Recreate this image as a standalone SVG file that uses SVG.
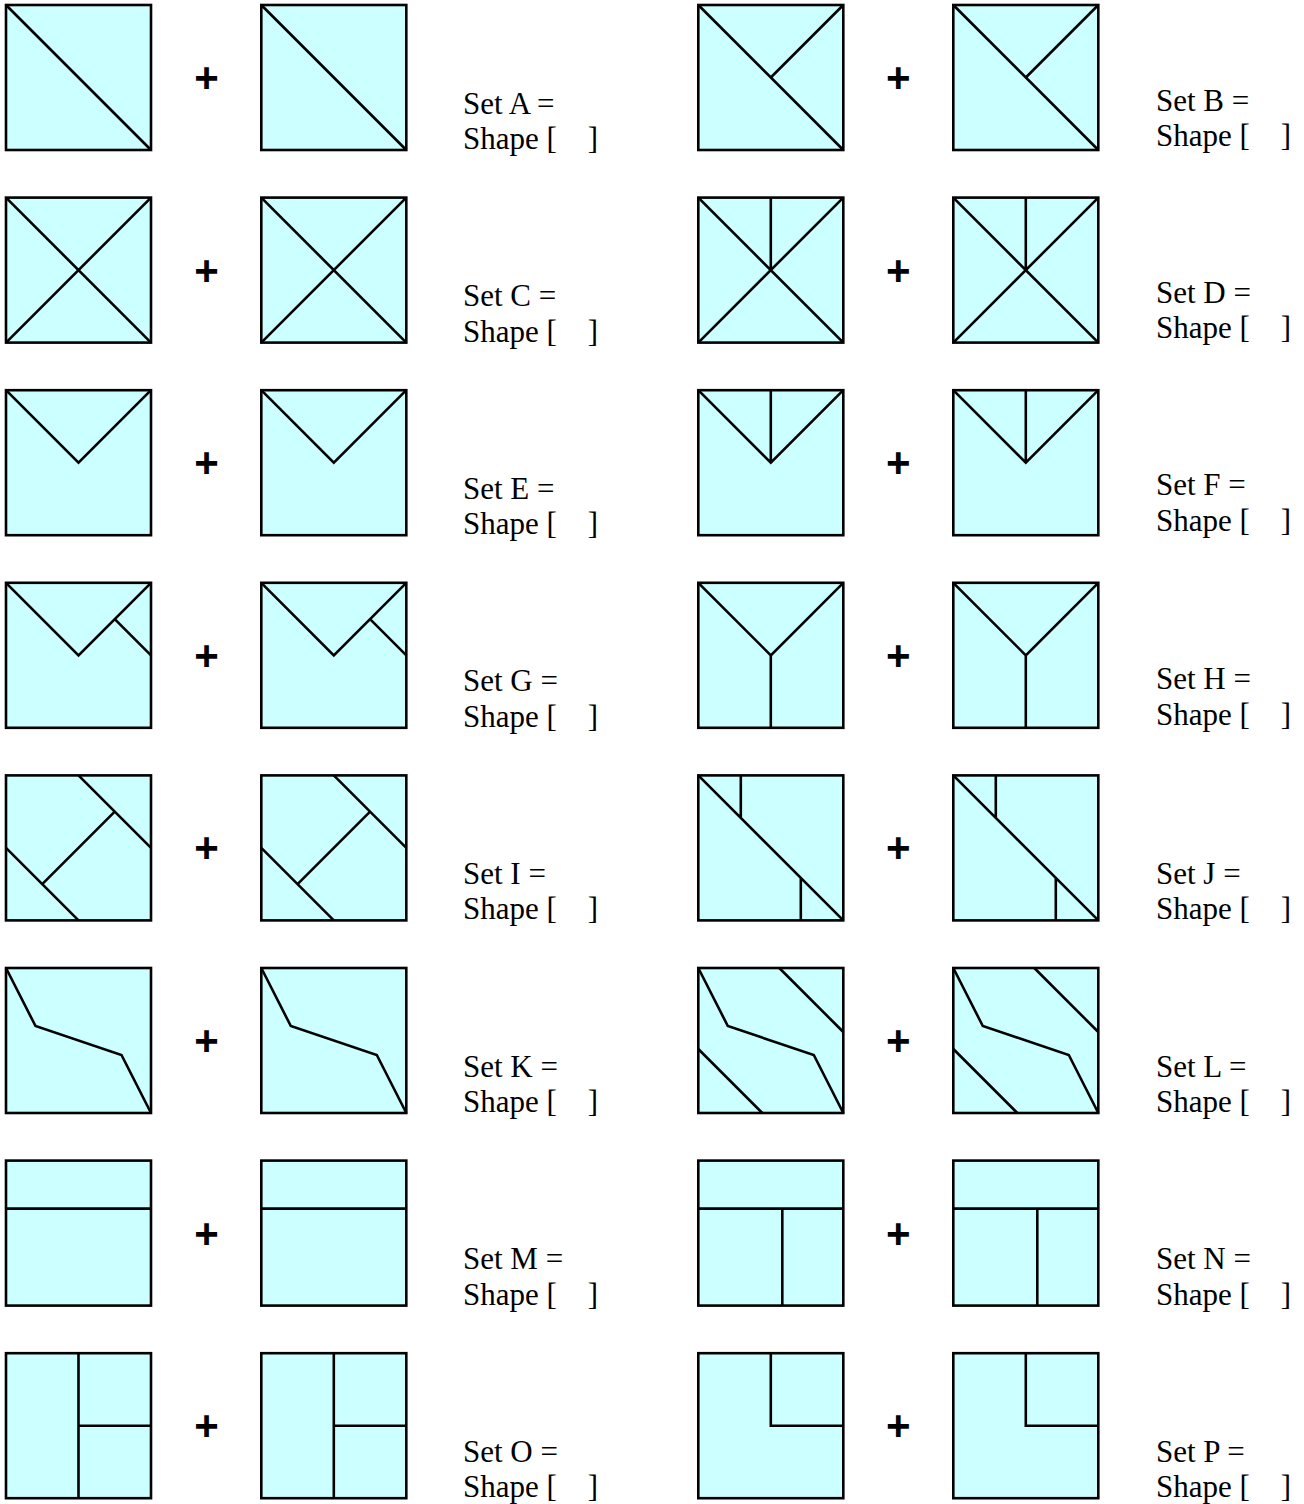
<svg xmlns="http://www.w3.org/2000/svg" width="1304" height="1504" viewBox="0 0 1304 1504">
<style>
.sq{fill:#CCFFFF;stroke:#000;stroke-width:2.6}
.ln{fill:none;stroke:#000;stroke-width:2.6;stroke-linejoin:miter}
.lbl{font-family:"Liberation Serif","Times New Roman",serif;font-size:31px;fill:#000;white-space:pre}
.plus{font-family:"Liberation Sans",Arial,sans-serif;font-size:42px;font-weight:bold;fill:#000;text-anchor:middle}
</style>
<defs>
<g id="shape-a"><rect class="sq" width="145" height="145"/><path class="ln" d="M0,0L145,145"/></g>
<g id="shape-b"><rect class="sq" width="145" height="145"/><path class="ln" d="M0,0L145,145M145,0L72.5,72.5"/></g>
<g id="shape-c"><rect class="sq" width="145" height="145"/><path class="ln" d="M0,0L145,145M145,0L0,145"/></g>
<g id="shape-d"><rect class="sq" width="145" height="145"/><path class="ln" d="M0,0L145,145M145,0L0,145M72.5,0L72.5,72.5"/></g>
<g id="shape-e"><rect class="sq" width="145" height="145"/><path class="ln" d="M0,0L72.5,72.5L145,0"/></g>
<g id="shape-f"><rect class="sq" width="145" height="145"/><path class="ln" d="M0,0L72.5,72.5L145,0M72.5,0L72.5,72.5"/></g>
<g id="shape-g"><rect class="sq" width="145" height="145"/><path class="ln" d="M0,0L72.5,72.5L145,0M108.75,36.25L145,72.5"/></g>
<g id="shape-h"><rect class="sq" width="145" height="145"/><path class="ln" d="M0,0L72.5,72.5L145,0M72.5,72.5L72.5,145"/></g>
<g id="shape-i"><rect class="sq" width="145" height="145"/><path class="ln" d="M72.5,0L145,72.5M0,72.5L72.5,145M36.25,108.75L108.75,36.25"/></g>
<g id="shape-j"><rect class="sq" width="145" height="145"/><path class="ln" d="M0,0L145,145M42.5,0L42.5,42.5M102.5,102.5L102.5,145"/></g>
<g id="shape-k"><rect class="sq" width="145" height="145"/><path class="ln" d="M0,0L29.5,58L115.5,87L145,145"/></g>
<g id="shape-l"><rect class="sq" width="145" height="145"/><path class="ln" d="M0,0L29.5,58L115.5,87L145,145M81,0L145,64M0,81L64,145"/></g>
<g id="shape-m"><rect class="sq" width="145" height="145"/><path class="ln" d="M0,48L145,48"/></g>
<g id="shape-n"><rect class="sq" width="145" height="145"/><path class="ln" d="M0,48L145,48M84,48L84,145"/></g>
<g id="shape-o"><rect class="sq" width="145" height="145"/><path class="ln" d="M72.5,0L72.5,145M72.5,72.5L145,72.5"/></g>
<g id="shape-p"><rect class="sq" width="145" height="145"/><path class="ln" d="M72.5,0L72.5,72.5L145,72.5"/></g>
</defs>
<rect width="1304" height="1504" fill="#fff"/>

<g id="set-a">
<use href="#shape-a" x="6" y="5"/><use href="#shape-a" x="261.3" y="5"/>
<text class="plus" x="206.5" y="92">+</text>
<text class="lbl" x="463" y="113.5">Set A =</text><text class="lbl" x="463" y="149">Shape [    ]</text>
</g>
<g id="set-b">
<use href="#shape-b" x="698.3" y="5"/><use href="#shape-b" x="953.3" y="5"/>
<text class="plus" x="898.3" y="92">+</text>
<text class="lbl" x="1156" y="110.5">Set B =</text><text class="lbl" x="1156" y="146">Shape [    ]</text>
</g>
<g id="set-c">
<use href="#shape-c" x="6" y="197.6"/><use href="#shape-c" x="261.3" y="197.6"/>
<text class="plus" x="206.5" y="284.6">+</text>
<text class="lbl" x="463" y="306.1">Set C =</text><text class="lbl" x="463" y="341.6">Shape [    ]</text>
</g>
<g id="set-d">
<use href="#shape-d" x="698.3" y="197.6"/><use href="#shape-d" x="953.3" y="197.6"/>
<text class="plus" x="898.3" y="284.6">+</text>
<text class="lbl" x="1156" y="302.6">Set D =</text><text class="lbl" x="1156" y="338.1">Shape [    ]</text>
</g>
<g id="set-e">
<use href="#shape-e" x="6" y="390.2"/><use href="#shape-e" x="261.3" y="390.2"/>
<text class="plus" x="206.5" y="477.2">+</text>
<text class="lbl" x="463" y="498.7">Set E =</text><text class="lbl" x="463" y="534.2">Shape [    ]</text>
</g>
<g id="set-f">
<use href="#shape-f" x="698.3" y="390.2"/><use href="#shape-f" x="953.3" y="390.2"/>
<text class="plus" x="898.3" y="477.2">+</text>
<text class="lbl" x="1156" y="495.2">Set F =</text><text class="lbl" x="1156" y="530.7">Shape [    ]</text>
</g>
<g id="set-g">
<use href="#shape-g" x="6" y="582.8"/><use href="#shape-g" x="261.3" y="582.8"/>
<text class="plus" x="206.5" y="669.8">+</text>
<text class="lbl" x="463" y="691.3">Set G =</text><text class="lbl" x="463" y="726.8">Shape [    ]</text>
</g>
<g id="set-h">
<use href="#shape-h" x="698.3" y="582.8"/><use href="#shape-h" x="953.3" y="582.8"/>
<text class="plus" x="898.3" y="669.8">+</text>
<text class="lbl" x="1156" y="689.3">Set H =</text><text class="lbl" x="1156" y="724.8">Shape [    ]</text>
</g>
<g id="set-i">
<use href="#shape-i" x="6" y="775.4"/><use href="#shape-i" x="261.3" y="775.4"/>
<text class="plus" x="206.5" y="862.4">+</text>
<text class="lbl" x="463" y="883.9">Set I =</text><text class="lbl" x="463" y="919.4">Shape [    ]</text>
</g>
<g id="set-j">
<use href="#shape-j" x="698.3" y="775.4"/><use href="#shape-j" x="953.3" y="775.4"/>
<text class="plus" x="898.3" y="862.4">+</text>
<text class="lbl" x="1156" y="883.9">Set J =</text><text class="lbl" x="1156" y="919.4">Shape [    ]</text>
</g>
<g id="set-k">
<use href="#shape-k" x="6" y="968"/><use href="#shape-k" x="261.3" y="968"/>
<text class="plus" x="206.5" y="1055">+</text>
<text class="lbl" x="463" y="1076.5">Set K =</text><text class="lbl" x="463" y="1112">Shape [    ]</text>
</g>
<g id="set-l">
<use href="#shape-l" x="698.3" y="968"/><use href="#shape-l" x="953.3" y="968"/>
<text class="plus" x="898.3" y="1055">+</text>
<text class="lbl" x="1156" y="1076.5">Set L =</text><text class="lbl" x="1156" y="1112">Shape [    ]</text>
</g>
<g id="set-m">
<use href="#shape-m" x="6" y="1160.6"/><use href="#shape-m" x="261.3" y="1160.6"/>
<text class="plus" x="206.5" y="1247.6">+</text>
<text class="lbl" x="463" y="1269.1">Set M =</text><text class="lbl" x="463" y="1304.6">Shape [    ]</text>
</g>
<g id="set-n">
<use href="#shape-n" x="698.3" y="1160.6"/><use href="#shape-n" x="953.3" y="1160.6"/>
<text class="plus" x="898.3" y="1247.6">+</text>
<text class="lbl" x="1156" y="1269.1">Set N =</text><text class="lbl" x="1156" y="1304.6">Shape [    ]</text>
</g>
<g id="set-o">
<use href="#shape-o" x="6" y="1353.2"/><use href="#shape-o" x="261.3" y="1353.2"/>
<text class="plus" x="206.5" y="1440.2">+</text>
<text class="lbl" x="463" y="1461.7">Set O =</text><text class="lbl" x="463" y="1497.2">Shape [    ]</text>
</g>
<g id="set-p">
<use href="#shape-p" x="698.3" y="1353.2"/><use href="#shape-p" x="953.3" y="1353.2"/>
<text class="plus" x="898.3" y="1440.2">+</text>
<text class="lbl" x="1156" y="1461.7">Set P =</text><text class="lbl" x="1156" y="1497.2">Shape [    ]</text>
</g>
<g id="connectors"></g>
</svg>
